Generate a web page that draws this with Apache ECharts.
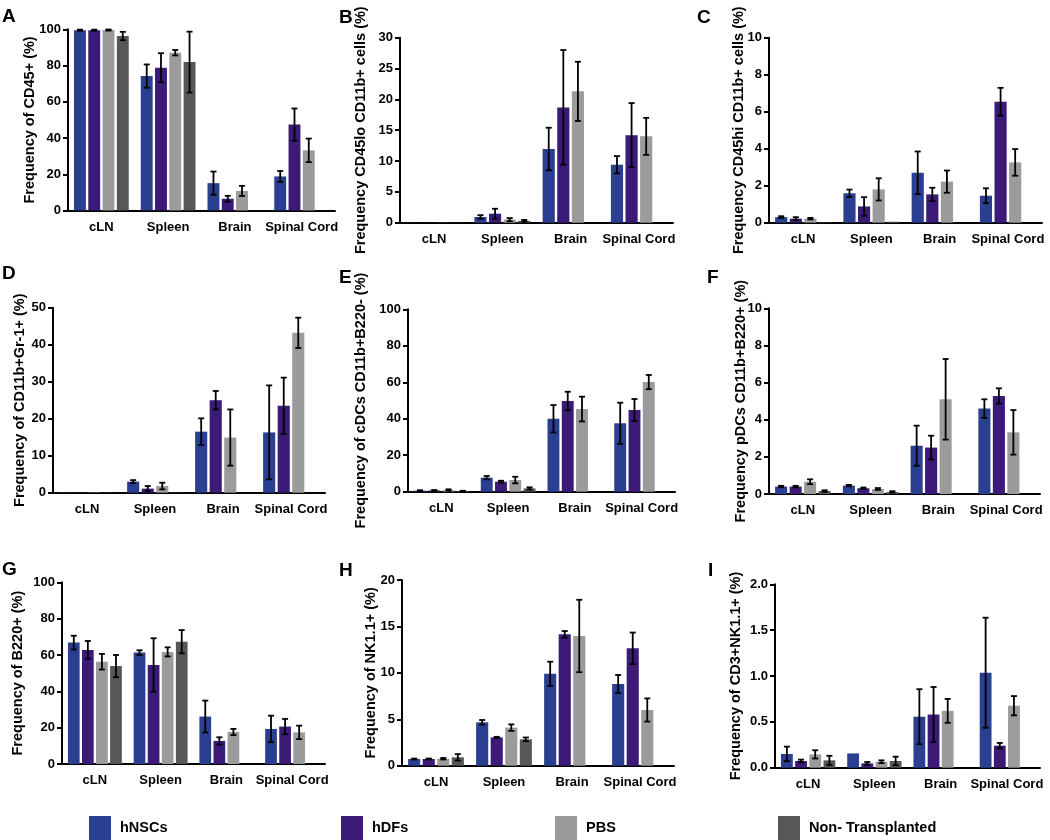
<!DOCTYPE html>
<html><head><meta charset="utf-8">
<script src="https://cdn.jsdelivr.net/npm/echarts/dist/echarts.min.js"></script>
<style>html,body{margin:0;padding:0;background:#fff}#c{width:1050px;height:840px}</style>
</head><body><div id="c"></div>
<script>
// ---------- data ----------
const categories = ['cLN', 'Spleen', 'Brain', 'Spinal Cord'];
const groups = ['hNSCs', 'hDFs', 'PBS', 'Non- Transplanted'];
const panelLetters = ['A', 'B', 'C', 'D', 'E', 'F', 'G', 'H', 'I'];
const yTitles = [
  'Frequency of CD45+ (%)',
  'Frequency CD45lo CD11b+ cells (%)',
  'Frequency CD45hi CD11b+ cells (%)',
  'Frequency of CD11b+Gr-1+ (%)',
  'Frequency of cDCs CD11b+B220- (%)',
  'Frequency pDCs CD11b+B220+ (%)',
  'Frequency of B220+ (%)',
  'Frequency of NK1.1+ (%)',
  'Frequency of CD3+NK1.1+ (%)'
];
const yMax = [100, 30, 10, 50, 100, 10, 100, 20, 2];
const yStep = [20, 5, 2, 10, 20, 2, 20, 5, 0.5];
const yDecimals = [0, 0, 0, 0, 0, 0, 0, 0, 1];

// rows: hNSCs, hDFs, PBS, Non- Transplanted ; cols: categories
const A_mean = [[99.5, 74.2, 15.1, 18.8], [99.5, 78.8, 6.5, 47.4], [99.6, 87.1, 10.8, 33.2], [96.3, 81.9, null, null]];
const A_err  = [[0.3, 6.4, 6.4, 3.0], [0.3, 8.0, 1.6, 8.9], [0.3, 1.5, 2.8, 6.5], [2.3, 16.8, null, null]];
const B_mean = [[0.03, 0.92, 11.95, 9.4], [0.03, 1.46, 18.7, 14.2], [0.03, 0.5, 21.3, 14.0], [0.03, 0.3, null, null]];
const B_err  = [[0, 0.3, 3.45, 1.4], [0, 0.8, 9.3, 5.2], [0, 0.25, 4.8, 3.0], [0, 0.15, null, null]];
const C_mean = [[0.3, 1.59, 2.7, 1.46], [0.22, 0.88, 1.53, 6.54], [0.22, 1.8, 2.22, 3.26], [0.02, 0.05, null, null]];
const C_err  = [[0.05, 0.2, 1.15, 0.4], [0.08, 0.5, 0.36, 0.75], [0.04, 0.6, 0.6, 0.72], [0, 0, null, null]];
const D_mean = [[0.1, 3.0, 16.5, 16.3], [0.1, 1.1, 25.0, 23.5], [0.1, 1.8, 14.9, 43.2], [0.05, 0.05, null, null]];
const D_err  = [[0, 0.4, 3.6, 12.7], [0, 0.7, 2.5, 7.6], [0, 0.9, 7.6, 4.1], [0, 0, null, null]];
const E_mean = [[0.6, 7.7, 40.0, 37.5], [0.7, 5.5, 49.7, 44.8], [0.9, 6.4, 45.3, 60.1], [0.4, 1.8, null, null]];
const E_err  = [[0.2, 0.9, 7.5, 11.3], [0.2, 0.5, 5.1, 6.0], [0.4, 1.8, 6.8, 3.9], [0.1, 0.6, null, null]];
const F_mean = [[0.4, 0.45, 2.6, 4.6], [0.4, 0.31, 2.5, 5.28], [0.66, 0.27, 5.1, 3.32], [0.16, 0.11, null, null]];
const F_err  = [[0.04, 0.04, 1.08, 0.5], [0.04, 0.04, 0.64, 0.41], [0.13, 0.05, 2.17, 1.2], [0.04, 0.04, null, null]];
const G_mean = [[66.8, 61.3, 26.1, 19.3], [62.8, 54.5, 12.7, 20.6], [56.3, 61.7, 17.6, 17.4], [53.9, 67.3, null, null]];
const G_err  = [[3.8, 1.3, 8.8, 7.3], [4.9, 14.7, 2.0, 4.2], [4.3, 2.5, 1.7, 3.7], [6.1, 6.4, null, null]];
const H_mean = [[0.72, 4.67, 9.9, 8.8], [0.72, 3.05, 14.15, 12.64], [0.75, 4.1, 13.97, 6.0], [0.9, 2.84, null, null]];
const H_err  = [[0.05, 0.25, 1.3, 0.97], [0.05, 0.06, 0.35, 1.7], [0.08, 0.35, 3.9, 1.25], [0.35, 0.2, null, null]];
const I_mean = [[0.15, 0.156, 0.556, 1.036], [0.073, 0.047, 0.58, 0.24], [0.145, 0.065, 0.62, 0.676], [0.08, 0.073, null, null]];
const I_err  = [[0.08, 0, 0.3, 0.6], [0.015, 0.015, 0.3, 0.03], [0.045, 0.015, 0.13, 0.105], [0.05, 0.047, null, null]];

const means = [A_mean, B_mean, C_mean, D_mean, E_mean, F_mean, G_mean, H_mean, I_mean];
const errs = [A_err, B_err, C_err, D_err, E_err, F_err, G_err, H_err, I_err];

// ---------- layout / style ----------
const colors = ['#2a3f8f', '#3b1a78', '#9b9b9b', '#575757'];
const FONT = '"Liberation Sans", Arial, sans-serif';
const CAT_GAP = 0.18, BAR_GAP = 0.2;
const grids = [
  {left: 68, top: 29.3, width: 267, height: 181.2},
  {left: 400, top: 37.7, width: 273, height: 185},
  {left: 769, top: 37.7, width: 273, height: 185},
  {left: 53, top: 307.7, width: 272, height: 185},
  {left: 408, top: 309.3, width: 267, height: 182.4},
  {left: 769, top: 308.3, width: 271, height: 185.7},
  {left: 62, top: 582.3, width: 263, height: 181.7},
  {left: 402, top: 580, width: 272, height: 185.7},
  {left: 775, top: 584.3, width: 265, height: 183.4}
];
const nameGaps = [31, 32, 23, 26, 40, 21, 37, 24, 32];
const letterPos = [[2, 7], [339, 8], [697, 8], [2, 264], [339, 268], [707, 268], [2, 560], [339, 561], [708, 561]];
const legendLeft = [84, 336, 550, 773];

const xAxes = [], yAxes = [], series = [];
grids.forEach((g, p) => {
  xAxes.push({
    type: 'category', gridIndex: p, data: categories,
    axisLine: {lineStyle: {color: '#000', width: 2}},
    axisTick: {alignWithLabel: true, length: 5, lineStyle: {color: '#000', width: 2}},
    axisLabel: {interval: 0, margin: 10, color: '#000', fontFamily: FONT, fontWeight: 'bold', fontSize: 13}
  });
  yAxes.push({
    type: 'value', gridIndex: p, min: 0, max: yMax[p], interval: yStep[p],
    name: yTitles[p], nameLocation: 'middle', nameGap: nameGaps[p], nameMoveOverlap: false,
    nameTextStyle: {color: '#000', fontFamily: FONT, fontWeight: 'bold', fontSize: 14.5},
    axisLine: {show: true, lineStyle: {color: '#000', width: 2}},
    axisTick: {show: true, length: 5, lineStyle: {color: '#000', width: 2}},
    splitLine: {show: false},
    axisLabel: {margin: 7, color: '#000', fontFamily: FONT, fontWeight: 'bold', fontSize: 13,
      formatter: v => v.toFixed(yDecimals[p])}
  });
  groups.forEach((name, gi) => {
    series.push({
      type: 'bar', name, xAxisIndex: p, yAxisIndex: p,
      data: means[p][gi], barCategoryGap: (CAT_GAP * 100) + '%', barGap: (BAR_GAP * 100) + '%',
      itemStyle: {color: colors[gi]}, silent: true, animation: false
    });
  });
  groups.forEach((name, gi) => {
    const d = [];
    categories.forEach((c, ci) => {
      const m = means[p][gi][ci], e = errs[p][gi][ci];
      if (m != null && e) d.push([ci, m, e]);
    });
    series.push({
      type: 'custom', xAxisIndex: p, yAxisIndex: p, z: 10, silent: true, animation: false,
      encode: {x: 0, y: 1}, data: d,
      renderItem: (params, api) => {
        const ci = api.value(0), m = api.value(1), e = api.value(2);
        const W = api.size([1, 0])[0];
        const bw = (W - W * CAT_GAP) / (4 + 3 * BAR_GAP);
        const total = 4 * bw + 3 * bw * BAR_GAP;
        const c = api.coord([ci, m]);
        const x = c[0] - total / 2 + gi * bw * (1 + BAR_GAP) + bw / 2;
        const yT = api.coord([ci, m + e])[1];
        const yB = api.coord([ci, Math.max(0, m - e)])[1];
        const hw = 3, st = {stroke: '#000', lineWidth: 1.8};
        return {type: 'group', children: [
          {type: 'line', shape: {x1: x, y1: yT, x2: x, y2: yB}, style: st},
          {type: 'line', shape: {x1: x - hw, y1: yT, x2: x + hw, y2: yT}, style: st},
          {type: 'line', shape: {x1: x - hw, y1: yB, x2: x + hw, y2: yB}, style: st}
        ]};
      }
    });
  });
});

const legends = groups.map((name, gi) => ({
  data: [name], left: legendLeft[gi], top: 811, itemWidth: 22, itemHeight: 24,
  icon: 'rect', selectedMode: false,
  textStyle: {color: '#000', fontFamily: FONT, fontWeight: 'bold', fontSize: 14.5, padding: [0, 0, 0, 4]}
}));

const graphics = panelLetters.map((L, i) => ({
  type: 'text', left: letterPos[i][0], top: letterPos[i][1],
  style: {text: L, fill: '#000', font: 'bold 19px ' + FONT}
}));

const chart = echarts.init(document.getElementById('c'), null, {renderer: 'canvas'});
chart.setOption({
  animation: false,
  backgroundColor: '#fff',
  grid: grids.map(g => Object.assign({outerBoundsMode: 'none', containLabel: false}, g)),
  xAxis: xAxes, yAxis: yAxes, series, legend: legends, graphic: graphics
});
</script></body></html>
